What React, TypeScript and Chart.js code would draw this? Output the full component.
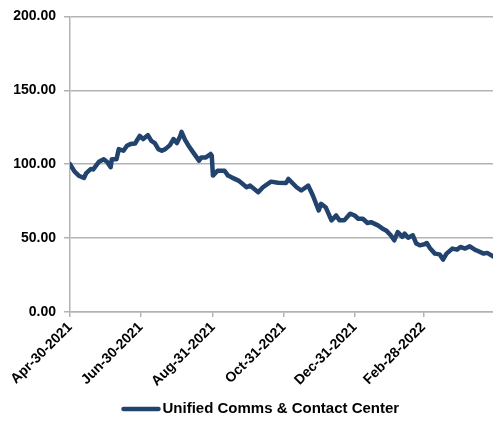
import React, { useEffect, useRef } from "react";
import { Chart, registerables } from "chart.js";

Chart.register(...registerables);

// Calendar days elapsed since Apr-30-2021
const dayOffsets: number[] = [
  0, 4, 8, 12, 14, 18, 20, 25, 29, 32, 35, 36, 40, 42, 46, 49, 52, 56, 60, 63,
  67, 70, 73, 76, 79, 82, 86, 89, 92, 95, 96, 99, 102, 106, 111, 113, 117, 121,
  122, 123, 127, 133, 136, 139, 145, 152, 155, 162, 166, 173, 179, 186, 188,
  195, 199, 205, 207, 209, 214, 216, 220, 225, 229, 232, 236, 241, 245, 248,
  252, 256, 259, 265, 269, 272, 276, 279, 282, 286, 288, 291, 295, 298, 301,
  305, 307, 310, 314, 318, 321, 324, 329, 333, 336, 340, 344, 349, 351, 356,
  359, 364,
];

// Index level (start = 100)
const indexValues: number[] = [
  100, 95, 92, 90.7, 94, 96.8, 96.5, 101.7, 103.4, 101.5, 98, 103.4, 103.4,
  110.2, 109.1, 112.5, 113.6, 114, 119.2, 117, 119.7, 115.8, 114.3, 110.2,
  109.1, 110.2, 112.9, 117, 114.3, 119.2, 121.9, 116.5, 112.5, 108, 102.4,
  104.6, 104.6, 106.9, 105.7, 92.3, 95.6, 95.6, 92.3, 91.1, 88.9, 84.4, 85.5,
  81, 84.4, 88.2, 87.5, 87.3, 90, 84.4, 82.2, 85.5, 82.2, 78.8, 68.7, 73.2,
  70.9, 62, 65.3, 62, 62, 66.5, 65.3, 63.1, 63.1, 60.2, 60.8, 58.6, 56.4, 55.2,
  51.9, 48.5, 54.1, 50.8, 53, 50.3, 51.9, 46.3, 45.1, 45.8, 46.7, 42.9, 39.5,
  39, 35.5, 39.5, 42.9, 42.2, 44, 42.9, 44.4, 41.8, 41.3, 39.5, 40, 37.7,
  37.2,
];

const tickDays: number[] = [0, 61, 123, 184, 245, 304];
const tickLabels: string[] = [
  "Apr-30-2021",
  "Jun-30-2021",
  "Aug-31-2021",
  "Oct-31-2021",
  "Dec-31-2021",
  "Feb-28-2022",
];
const yTicks: number[] = [0, 50, 100, 150, 200];
const seriesName = "Unified Comms & Contact Center";

const LINE_COLOR = "#21436E";
const GRID_COLOR = "#b3b3b3";
const FAMILY = "'Liberation Sans', Arial, sans-serif";
const TICK_FONT = { family: FAMILY, size: 14, weight: "bold" as const };
const LEGEND_FONT_SIZE = 15;

// Legend drawn below the axis: a thick line swatch followed by the series name
const seriesLegend = {
  id: "seriesLegend",
  afterDraw(chart: any) {
    const ctx: CanvasRenderingContext2D = chart.ctx;
    const ds = chart.data.datasets[0];
    const swatch = 39;
    const gap = 2;
    ctx.save();
    ctx.font = `bold ${LEGEND_FONT_SIZE}px ${FAMILY}`;
    const textW = ctx.measureText(ds.label).width;
    const total = swatch + gap + textW;
    const cx = chart.chartArea.left + (chart.width - chart.chartArea.left) * 0.45;
    const y = chart.height - 22;
    const x0 = cx - total / 2;
    ctx.strokeStyle = ds.borderColor;
    ctx.lineWidth = ds.borderWidth;
    ctx.lineCap = "round";
    ctx.beginPath();
    ctx.moveTo(x0 + 2, y);
    ctx.lineTo(x0 + swatch - 2, y);
    ctx.stroke();
    ctx.fillStyle = "#000";
    ctx.textBaseline = "middle";
    ctx.textAlign = "left";
    ctx.fillText(ds.label, x0 + swatch + gap, y);
    ctx.restore();
  },
};

export default function App() {
  const canvasRef = useRef<HTMLCanvasElement | null>(null);

  useEffect(() => {
    if (!canvasRef.current) return;
    const chart = new Chart(canvasRef.current, {
      type: "line",
      data: {
        datasets: [
          {
            label: seriesName,
            data: dayOffsets.map((d, i) => ({ x: d, y: indexValues[i] })),
            borderColor: LINE_COLOR,
            backgroundColor: LINE_COLOR,
            borderWidth: 4.5,
            pointRadius: 0,
            tension: 0,
            borderJoinStyle: "round",
            borderCapStyle: "round",
          },
        ],
      },
      options: {
        responsive: false,
        animation: false,
        layout: { padding: { top: 15, right: 0, left: 0, bottom: 39 } },
        scales: {
          x: {
            type: "linear",
            min: 0,
            max: 364,
            afterBuildTicks: (scale: any) => {
              scale.ticks = tickDays.map((v) => ({ value: v }));
            },
            afterFit: (scale: any) => {
              scale.height = 80;
            },
            ticks: {
              autoSkip: false,
              minRotation: 45,
              maxRotation: 45,
              color: "#000",
              font: TICK_FONT,
              padding: 2,
              callback: (v: any) => {
                const i = tickDays.indexOf(Number(v));
                return i >= 0 ? tickLabels[i] : "";
              },
            },
            grid: {
              drawOnChartArea: false,
              drawTicks: true,
              tickLength: 5,
              color: GRID_COLOR,
              lineWidth: 1.5,
            },
            border: { display: true, color: GRID_COLOR, width: 1.5 },
          },
          y: {
            min: 0,
            max: 200,
            afterBuildTicks: (scale: any) => {
              scale.ticks = yTicks.map((v) => ({ value: v }));
            },
            afterFit: (scale: any) => {
              scale.width = 70;
            },
            ticks: {
              color: "#000",
              font: TICK_FONT,
              padding: 8,
              callback: (v: any) => Number(v).toFixed(2),
            },
            grid: {
              color: GRID_COLOR,
              lineWidth: 1.5,
              tickLength: 6,
            },
            border: { display: true, color: GRID_COLOR, width: 1.5 },
          },
        },
        plugins: {
          tooltip: { enabled: false },
          legend: { display: false },
        },
      },
      plugins: [seriesLegend],
    });
    return () => chart.destroy();
  }, []);

  return (
    <div style={{ position: "fixed", left: 0, top: 0, width: 493, height: 431, background: "#fff" }}>
      <canvas ref={canvasRef} width={493} height={431} />
    </div>
  );
}
